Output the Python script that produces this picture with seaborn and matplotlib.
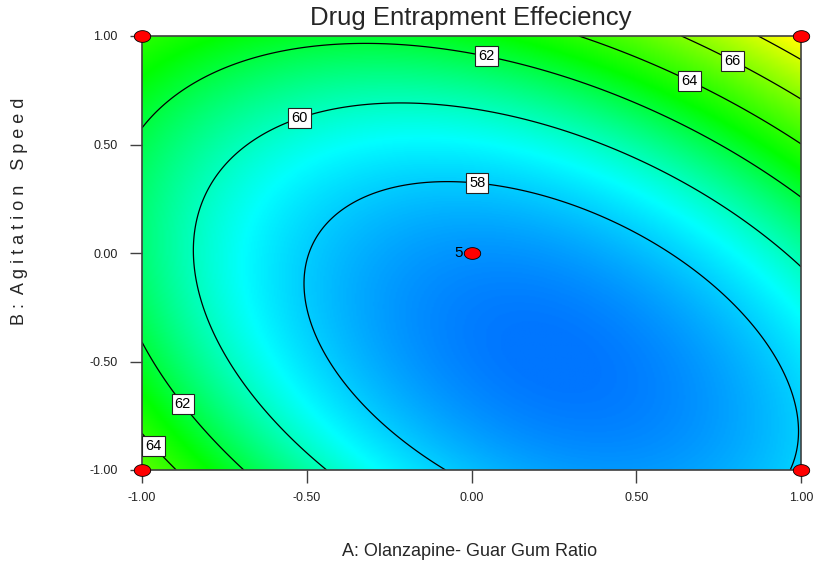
import numpy as np
import matplotlib
matplotlib.use("Agg")
import matplotlib.pyplot as plt
from matplotlib.colors import LinearSegmentedColormap
from matplotlib.path import Path
import pandas as pd
import seaborn as sns

# Fitted quadratic model (coded factors): Intercept, A, B, AB, A^2, B^2
coef_names = ["Intercept", "A", "B", "AB", "A2", "B2"]
coef_values = [56.83, -0.43, 2.51, 3.07, 3.94, 3.38]

contour_levels = [58, 60, 62, 64, 66, 68]
label_positions = [(0.02, 0.37), (-0.53, 0.66), (0.05, 0.94), (-0.87, -0.69),
                   (0.67, 0.82), (-0.95, -0.87), (0.80, 0.91)]

design_A = [-1.0, 1.0, -1.0, 1.0, 0.0]
design_B = [-1.0, -1.0, 1.0, 1.0, 0.0]
center_runs = 5

tick_values = [-1.0, -0.5, 0.0, 0.5, 1.0]
tick_labels = ["-1.00", "-0.50", "0.00", "0.50", "1.00"]

title = "Drug Entrapment Effeciency"
xlabel = "A: Olanzapine- Guar Gum Ratio"
ylabel = "B :  A g i t a t i o n   S p e e d"

sns.set_theme(style="white")
plt.rcParams['font.family'] = ['Liberation Sans', 'DejaVu Sans']

fig = plt.figure(figsize=(8.25, 5.69), dpi=100)
ax = fig.add_axes([142/825, 1-470/569, 659/825, 434/569])

a = np.linspace(-1, 1, 400)
b = np.linspace(-1, 1, 400)
AA, BB = np.meshgrid(a, b)
c = dict(zip(coef_names, coef_values))
Z = (c["Intercept"] + c["A"]*AA + c["B"]*BB + c["AB"]*AA*BB
     + c["A2"]*AA**2 + c["B2"]*BB**2)

vmin, vmax = 56.2, 69.3
stops = [(56.2, (0/255, 118/255, 1.0)), (59.0, (0, 1.0, 1.0)),
         (63.0, (0, 1.0, 0)), (69.0, (1.0, 1.0, 0)), (69.3, (1.0, 1.0, 0))]
cmap = LinearSegmentedColormap.from_list(
    "de", [((v - vmin)/(vmax - vmin), col) for v, col in stops])

ax.imshow(Z, extent=[-1, 1, -1, 1], origin="lower", cmap=cmap,
          vmin=vmin, vmax=vmax, aspect="auto", interpolation="bilinear")
cs = ax.contour(AA, BB, Z, levels=contour_levels, colors="black", linewidths=0.9)
texts = ax.clabel(cs, inline=False, fmt="%d", fontsize=10.5, manual=label_positions)
for t in texts:
    t.set_rotation(0)
    t.set_bbox(dict(facecolor="white", edgecolor="#222222", pad=2.2, linewidth=0.8))
    t.set_zorder(5)

# design points
pts = pd.DataFrame({"A": design_A, "B": design_B})
th = np.linspace(0, 2*np.pi, 40)
ell = Path(np.column_stack([1.4*np.cos(th), np.sin(th)]))
sns.scatterplot(data=pts, x="A", y="B", ax=ax, marker=ell, s=140,
                color="red", edgecolor="black", linewidth=0.6,
                zorder=10, clip_on=False, legend=False)
ax.text(-0.025, 0.0, str(center_runs), ha="right", va="center", fontsize=11,
        color="black", zorder=11)

ax.set_xlim(-1, 1)
ax.set_ylim(-1, 1)
ax.set_xticks(tick_values)
ax.set_xticklabels(tick_labels)
ax.set_yticks(tick_values)
ax.set_yticklabels(tick_labels)
ax.tick_params(axis="both", direction="out", length=9, width=1, color="#404040",
               labelsize=9, labelcolor="#222222", bottom=True, left=True)
ax.tick_params(axis="x", pad=7)
ax.tick_params(axis="y", pad=8.5)
for s in ax.spines.values():
    s.set_color("#404040")
    s.set_linewidth(1.2)
ax.set_xlabel("")
ax.set_ylabel("")

fig.text(471/825, 1-18/569, title, ha="center", va="center", fontsize=18.5)
fig.text(470/825, 1-552/569, xlabel, ha="center", va="center", fontsize=13)
fig.text(20/825, 1-211/569, ylabel, ha="center", va="center", fontsize=13,
         rotation=90)

fig.savefig("out.png", dpi=100)
